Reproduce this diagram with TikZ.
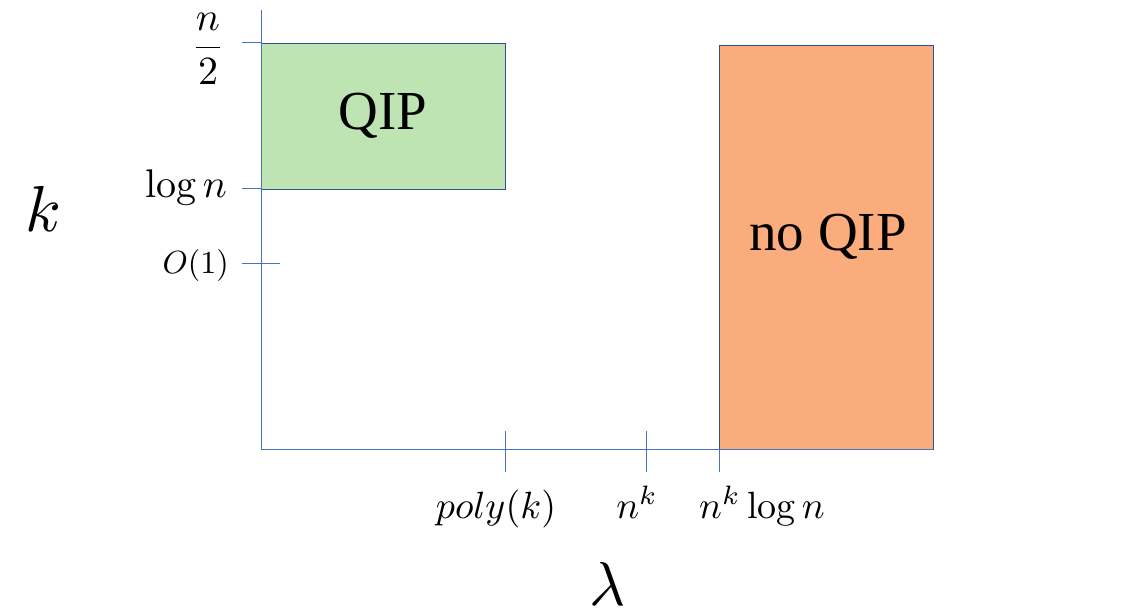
\documentclass[tikz,border=0pt]{standalone}
\usepackage{amsmath}
\usepackage{fontspec}
\newfontfamily\timesf{Liberation Serif}
\newcommand{\sclbl}[2]{\scalebox{#1}{#2}}
\definecolor{axisblue}{HTML}{4472C4}
\definecolor{edgeblue}{HTML}{2F528F}
\definecolor{qipgreen}{HTML}{BFE4B4}
\definecolor{noqiporange}{HTML}{FBAC7C}
\begin{document}
\begin{tikzpicture}[x=1pt,y=-1pt,
  axisline/.style={draw=axisblue,line width=1pt},
  region/.style={draw=edgeblue,line width=0.9pt,anchor=north west,inner sep=0pt,outer sep=0pt},
  regiontext/.style={font=\timesf\fontsize{55}{62}\selectfont},
  ticklabel/.style={inner sep=0pt}]
\useasboundingbox (0,0) rectangle (1143,612);
% regions
\node[region,fill=qipgreen,minimum width=244pt,minimum height=146pt] (qip) at (261,43) {};
\node[regiontext] at (qip.center) {QIP};
\node[region,fill=noqiporange,minimum width=214pt,minimum height=404pt] (noqip) at (719,45) {};
\node[regiontext] at (828,237) {no QIP};
% axes
\draw[axisline] (261,10) -- (261,449) -- (933,449);
% y ticks
\draw[axisline] (242,43) -- (261,43);
\draw[axisline] (242,189) -- (261,189);
\draw[axisline] (242,264) -- (280,264);
% x ticks
\draw[axisline] (505,431) -- (505,472);
\draw[axisline] (646,431) -- (646,472);
\draw[axisline] (719,449) -- (719,472);
% labels
\node[ticklabel] (lhalf) at (208,49) {\sclbl{4}{$\dfrac{n}{2}$}};
\node[ticklabel,anchor=base east] (llog) at (227,198) {\sclbl{4}{$\log n$}};
\node[ticklabel,anchor=base east] (lone) at (229,274) {\sclbl{3.2}{$O(1)$}};
\node[ticklabel,anchor=base] (lk) at (43,232) {\sclbl{6.5}{$k$}};
\node[ticklabel,anchor=base] (lpoly) at (496,518) {\sclbl{3.8}{$poly(k)$}};
\node[ticklabel,anchor=base] (lnk) at (637,518) {\sclbl{3.8}{$n^k$}};
\node[ticklabel,anchor=base] (lnklog) at (762,518) {\sclbl{3.8}{$n^k\log n$}};
\node[ticklabel,anchor=base] (llambda) at (608,605) {\sclbl{6.2}{$\lambda$}};
\end{tikzpicture}
\end{document}
